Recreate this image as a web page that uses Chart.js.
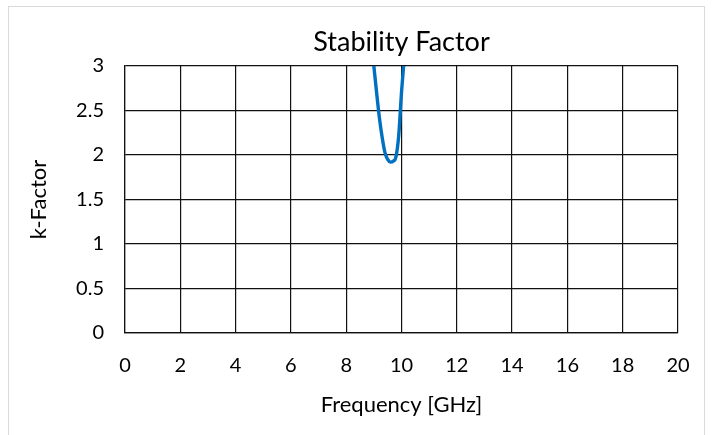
<!DOCTYPE html>
<html>
<head>
<meta charset="utf-8">
<script src="https://cdn.jsdelivr.net/npm/chart.js@4.4.0/dist/chart.umd.min.js"></script>
<style>
  html, body { margin: 0; padding: 0; background: #fff; }
  #frame { position: absolute; left: 8px; top: 6px; width: 697px; height: 440px; border: 1px solid #d9d9d9; box-sizing: border-box; }
  canvas { position: absolute; left: 0; top: 0; }
</style>
</head>
<body>
<div id="frame"></div>
<canvas id="c" width="714" height="435"></canvas>
<script>
const frequencyGHz = [8.9, 9.0, 9.1, 9.2, 9.3, 9.4, 9.5, 9.6, 9.7, 9.8, 9.9, 10.0, 10.1, 10.2];
const kFactor      = [3.30, 3.00, 2.70, 2.42, 2.20, 2.03, 1.95, 1.92, 1.93, 1.98, 2.22, 2.70, 3.10, 3.60];
const chartTitle = 'Stability Factor';
const xTitle = 'Frequency [GHz]';
const yTitle = 'k-Factor';

const FONT = 'Lato, "Open Sans", sans-serif';
const points = frequencyGHz.map((f, i) => ({ x: f, y: kFactor[i] }));

const titlePlugin = {
  id: 'centeredTitle',
  afterDraw(chart) {
    const ctx = chart.ctx;
    const a = chart.chartArea;
    ctx.save();
    ctx.font = '27px ' + FONT;
    ctx.fillStyle = '#000';
    ctx.textAlign = 'center';
    ctx.textBaseline = 'middle';
    ctx.fillText(chartTitle, (a.left + a.right) / 2, 42);
    ctx.restore();
  }
};

new Chart(document.getElementById('c'), {
  type: 'line',
  data: {
    datasets: [{
      data: points,
      borderColor: '#0070C0',
      borderWidth: 3.4,
      pointRadius: 0,
      fill: false,
      cubicInterpolationMode: 'monotone',
      clip: 0
    }]
  },
  plugins: [titlePlugin],
  options: {
    responsive: false,
    animation: false,
    devicePixelRatio: 1,
    layout: { padding: { left: 0, right: 36, top: 66, bottom: 0 } },
    plugins: {
      legend: { display: false },
      tooltip: { enabled: false },
      title: { display: false }
    },
    scales: {
      x: {
        type: 'linear',
        min: 0, max: 20,
        ticks: { stepSize: 2, color: '#000', padding: 21, font: { family: FONT, size: 20 }, maxRotation: 0 },
        grid: { color: '#111', lineWidth: 1.2, drawTicks: false },
        border: { color: '#111', width: 1.2 },
        title: { display: true, text: xTitle, color: '#000', font: { family: FONT, size: 22 }, padding: { top: 0, bottom: 17 } },
        afterFit: (s) => { s.height = 435 - 333; }
      },
      y: {
        min: 0, max: 3,
        ticks: { stepSize: 0.5, color: '#000', padding: 21, font: { family: FONT, size: 20 }, callback: (v) => String(v) },
        grid: { color: '#111', lineWidth: 1.2, drawTicks: false },
        border: { color: '#111', width: 1.2 },
        title: { display: true, text: yTitle, color: '#000', font: { family: FONT, size: 22 }, padding: { top: 26, bottom: 0 } },
        afterFit: (s) => { s.width = 125; }
      }
    }
  }
});
</script>
</body>
</html>
